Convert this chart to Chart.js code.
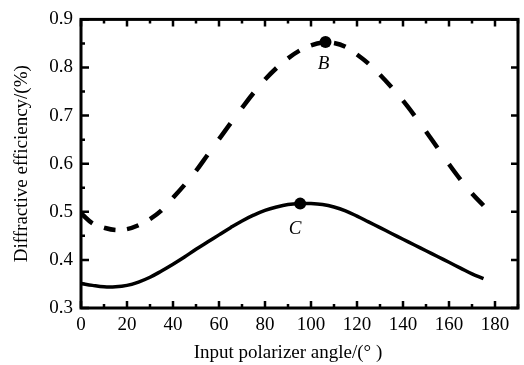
<!DOCTYPE html>
<html>
<head>
<meta charset="utf-8">
<script src="https://cdn.jsdelivr.net/npm/chart.js@4.4.0/dist/chart.umd.min.js"></script>
<style>
  html, body { margin: 0; padding: 0; background: #fff; }
  canvas { display: block; }
</style>
</head>
<body>
<canvas id="myChart" width="524" height="365"></canvas>
<script>
// polarizer angle (deg)
var angles = [0,5,10,15,20,25,30,35,40,45,50,55,60,65,70,75,80,85,90,
              95,100,105,110,115,120,125,130,135,140,145,150,155,160,165,170,175];
// dashed curve
var dashedEff = [0.497,0.476,0.467,0.462,0.464,0.472,0.485,0.503,0.529,0.556,0.585,0.618,
                 0.651,0.684,0.716,0.747,0.775,0.799,0.819,0.835,0.846,0.852,0.851,0.843,
                 0.827,0.808,0.785,0.759,0.731,0.700,0.667,0.633,0.599,0.567,0.538,0.513];
// solid curve
var solidEff = [0.351,0.347,0.344,0.344,0.347,0.354,0.364,0.377,0.391,0.406,0.422,0.437,
                0.452,0.467,0.481,0.493,0.503,0.510,0.515,0.517,0.517,0.515,0.510,0.502,
                0.491,0.479,0.467,0.455,0.443,0.431,0.419,0.407,0.395,0.383,0.371,0.361];
// marked points
var markLabels = ["B","C"];
var markX = [106.3, 95.3];
var markY = [0.853, 0.517];

var xTicks = [0,20,40,60,80,100,120,140,160,180];
var yTicks = [0.3,0.4,0.5,0.6,0.7,0.8,0.9];

var FONT = "'Liberation Serif', 'Times New Roman', serif";

function pts(xs, ys){
    return xs.map(function(x, i){ return {x: x, y: ys[i]}; });
}

var framePlugin = {
    id: 'frame',
    afterDatasetsDraw: function(chart){
        var ctx = chart.ctx, a = chart.chartArea;
        var xs = chart.scales.x, ys = chart.scales.y;
        ctx.save();
        ctx.strokeStyle = '#000';
        ctx.fillStyle = '#000';

        // point labels
        ctx.font = 'italic 19px ' + FONT;
        ctx.textAlign = 'center';
        ctx.textBaseline = 'middle';
        var offs = [[-2, 22], [-5, 25]];
        for (var i = 0; i < markLabels.length; i++) {
            ctx.fillText(markLabels[i],
                xs.getPixelForValue(markX[i]) + offs[i][0],
                ys.getPixelForValue(markY[i]) + offs[i][1]);
        }

        // inner ticks
        ctx.lineWidth = 2.5;
        ctx.beginPath();
        for (var v = 0; v <= 190; v += 10) {
            var px = xs.getPixelForValue(v);
            var len = (v % 20 === 0) ? 7 : 4;
            ctx.moveTo(px, a.bottom); ctx.lineTo(px, a.bottom - len);
            ctx.moveTo(px, a.top); ctx.lineTo(px, a.top + len);
        }
        for (var k = 0; k <= 12; k++) {
            var val = 0.3 + k * 0.05;
            var py = ys.getPixelForValue(val);
            var major = (k % 2 === 0);
            ctx.moveTo(a.left, py); ctx.lineTo(a.left + (major ? 8 : 4), py);
            if (major) { ctx.moveTo(a.right, py); ctx.lineTo(a.right - 7, py); }
        }
        ctx.stroke();

        // frame
        ctx.lineWidth = 3;
        ctx.strokeRect(a.left, a.top, a.right - a.left, a.bottom - a.top);

        // axis titles
        ctx.font = '19px ' + FONT;
        ctx.textAlign = 'center';
        ctx.textBaseline = 'middle';
        ctx.fillText('Input polarizer angle/(\u00B0 )', xs.getPixelForValue(90), 353);
        ctx.translate(22, (a.top + a.bottom) / 2);
        ctx.rotate(-Math.PI / 2);
        ctx.fillText('Diffractive efficiency/(%)', 0, 0);
        ctx.restore();
    }
};

new Chart('myChart', {
    type: 'line',
    data: {
        datasets: [
            {
                label: 'dashed',
                data: pts(angles, dashedEff),
                borderColor: '#000',
                borderWidth: 4.5,
                borderCapStyle: 'butt',
                pointRadius: 0,
                tension: 0.4,
                fill: false,
                // dash = every other data segment, like the original plot
                segment: {
                    borderColor: function(c){
                        return (c.p0DataIndex % 2 === 0) ? '#000' : 'rgba(0,0,0,0)';
                    }
                }
            },
            {
                label: 'solid',
                data: pts(angles, solidEff),
                borderColor: '#000',
                borderWidth: 3.5,
                pointRadius: 0,
                tension: 0.4,
                fill: false
            },
            {
                label: 'marks',
                data: pts(markX, markY),
                showLine: false,
                pointRadius: 6,
                pointBackgroundColor: '#000',
                pointBorderColor: '#000',
                pointBorderWidth: 0
            }
        ]
    },
    options: {
        responsive: false,
        devicePixelRatio: 1,
        animation: false,
        layout: { padding: { top: 19, right: 5, left: 0, bottom: 0 } },
        plugins: {
            legend: { display: false },
            tooltip: { enabled: false }
        },
        scales: {
            x: {
                type: 'linear',
                min: 0,
                max: 190,
                afterBuildTicks: function(scale){
                    scale.ticks = xTicks.map(function(v){ return {value: v}; });
                },
                afterFit: function(scale){ scale.height = 57; },
                grid: { display: false, drawTicks: false },
                border: { display: false },
                ticks: {
                    color: '#000',
                    padding: 6,
                    maxRotation: 0,
                    font: { family: FONT, size: 19 }
                }
            },
            y: {
                type: 'linear',
                min: 0.3,
                max: 0.9,
                afterBuildTicks: function(scale){
                    scale.ticks = yTicks.map(function(v){ return {value: v}; });
                },
                afterFit: function(scale){ scale.width = 81; },
                grid: { display: false, drawTicks: false },
                border: { display: false },
                ticks: {
                    color: '#000',
                    padding: 8,
                    font: { family: FONT, size: 19 },
                    callback: function(v){ return v.toFixed(1); }
                }
            }
        }
    },
    plugins: [framePlugin]
});
</script>
</body>
</html>
